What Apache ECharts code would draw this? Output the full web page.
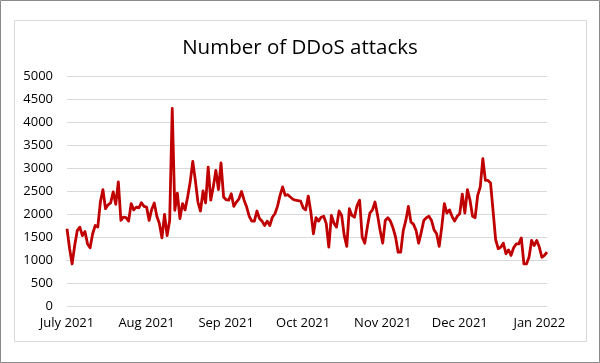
<!DOCTYPE html>
<html><head><meta charset="utf-8">
<script src="https://cdn.jsdelivr.net/npm/echarts@6/dist/echarts.min.js"></script>
<style>html,body{margin:0;padding:0;background:#fff}#c{width:600px;height:363px}</style>
</head><body><div id="c"></div>
<script>
// Daily number of DDoS attacks, starting 2021-07-01
const startDate = [2021, 6, 1];
const attacks = [
  1680,1250,915,1315,1640,1715,1530,1620,1350,1265,
  1570,1750,1715,2260,2530,2115,2200,2240,2480,2210,
  2700,1860,1930,1920,1845,2225,2090,2150,2135,2245,
  2165,2150,1860,2100,2240,1950,1790,1480,1990,1530,
  1860,4295,
  2080,2455,1900,2225,2090,2370,2700,3145,2730,2260,
  2065,2500,2240,3020,2300,2590,2950,2530,3110,2370,
  2310,2300,2440,2165,2260,2330,2490,2300,2150,1950,
  1845,1845,2065,1900,1845,1750,1845,1750,1930,2005,
  2165,2405,2590,2405,2420,2370,2320,2300,2290,2280,2135,
  2090,2390,2040,1570,1920,1845,1930,1950,1790,1280,
  1970,1800,1715,2065,1970,1535,1295,2115,1970,1930,
  2185,2300,1500,1365,1715,2020,2090,2260,1970,1640,
  1365,1860,1920,1845,1700,1500,1170,1170,1640,1860,
  2165,1825,1775,1640,1365,1600,1860,1920,1950,1860,1655,
  1570,1295,1715,2225,2020,2090,1950,1845,1950,2005,
  2430,2020,2530,2300,1950,1920,2405,2590,3205,2730,
  2730,2675,2065,1440,1245,1280,1365,1135,1220,1100,
  1265,1350,1350,1480,915,915,1060,1425,1315,1425,
  1280,1060,1100,1170
];
const tickDates = ['2021-07-01','2021-08-01','2021-09-01','2021-10-01','2021-11-01','2021-12-01','2022-01-01'];
const tickLabels = ['July 2021','Aug 2021','Sep 2021','Oct 2021','Nov 2021','Dec 2021','Jan 2022'];
const yMin = 0, yMax = 5000, yStep = 500;

const dates = [];
const t0 = Date.UTC(startDate[0], startDate[1], startDate[2]);
for (let i = 0; i < attacks.length; i++) {
  dates.push(new Date(t0 + i * 86400000).toISOString().slice(0, 10));
}

const FONT = 'Open Sans';
const chart = echarts.init(document.getElementById('c'), null, {renderer: 'canvas'});
chart.setOption({
  animation: false,
  backgroundColor: '#ffffff',
  title: {
    text: 'Number of DDoS attacks',
    left: 'center',
    top: 33,
    textStyle: {fontFamily: FONT, fontSize: 20.5, fontWeight: 'normal', color: '#000000'}
  },
  grid: {left: 67, right: 53, top: 76, bottom: 57, containLabel: false},
  xAxis: {
    type: 'category',
    data: dates,
    boundaryGap: false,
    axisLine: {show: false},
    axisTick: {show: false},
    splitLine: {show: false},
    axisLabel: {
      interval: (idx, val) => tickDates.indexOf(val) >= 0,
      formatter: val => tickLabels[tickDates.indexOf(val)],
      fontFamily: FONT, fontSize: 13, color: '#000000', margin: 11
    }
  },
  yAxis: {
    type: 'value',
    min: yMin, max: yMax, interval: yStep,
    axisLine: {show: false},
    axisTick: {show: false},
    splitLine: {lineStyle: {color: '#d9d9d9', width: 1}},
    axisLabel: {fontFamily: FONT, fontSize: 13, color: '#000000', margin: 14, formatter: v => String(v)}
  },
  series: [{
    type: 'line',
    data: attacks,
    showSymbol: false,
    symbol: 'none',
    lineStyle: {color: '#c00000', width: 2.8, join: 'round'},
    itemStyle: {color: '#c00000'}
  }],
  graphic: [
    {type: 'rect', shape: {x: 0.5, y: 0.5, width: 599, height: 362}, style: {fill: null, stroke: '#8a8a8a', lineWidth: 1}, silent: true},
    {type: 'rect', shape: {x: 14.5, y: 20.5, width: 572, height: 321}, style: {fill: null, stroke: '#d9d9d9', lineWidth: 1}, silent: true}
  ]
});
</script></body></html>
